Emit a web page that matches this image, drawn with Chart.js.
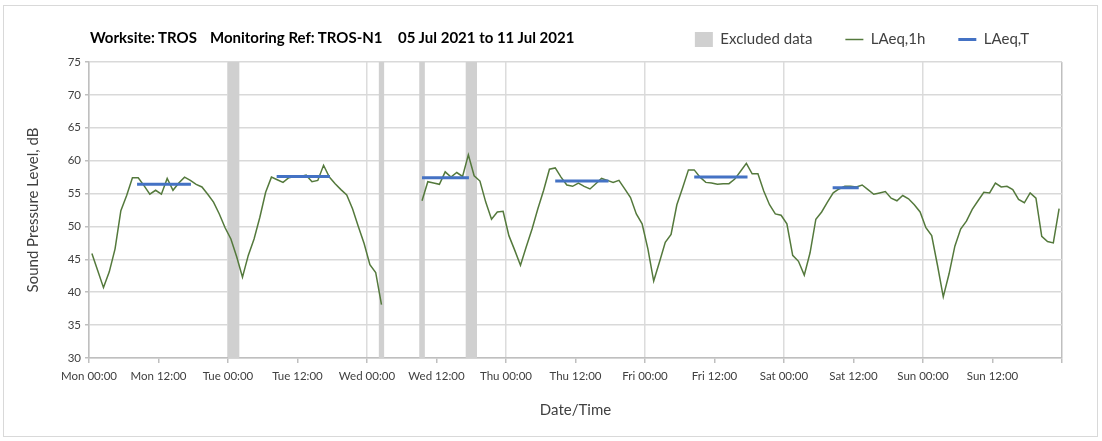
<!DOCTYPE html>
<html>
<head>
<meta charset="utf-8">
<title>TROS-N1 noise monitoring</title>
<script src="https://cdn.jsdelivr.net/npm/chart.js@4.4.0/dist/chart.umd.min.js"></script>
<style>
  body { margin: 0; background: #fff; font-family: Lato, 'Open Sans', sans-serif; }
  #wrap { position: relative; width: 1102px; height: 441px; }
  #frame { position: absolute; left: 3px; top: 5px; width: 1093px; height: 430px; border: 1px solid #d9d9d9; }
  #heading { position: absolute; top: 28px; left: 0; font-weight: bold; font-size: 15px; color: #000; }
  #heading span { position: absolute; white-space: nowrap; }
  canvas { position: absolute; left: 0; top: 0; }
</style>
</head>
<body>
<div id="wrap">
  <div id="frame"></div>
  <canvas id="noiseChart" width="1102" height="441"></canvas>
  <div id="heading">
    <span style="left:90px">Worksite: TROS</span>
    <span style="left:210px">Monitoring Ref: TROS-N1</span>
    <span style="left:398px">05 Jul 2021 to 11 Jul 2021</span>
  </div>
</div>
<script>
// x axis is hours from Mon 00:00
const days = ['Mon', 'Tue', 'Wed', 'Thu', 'Fri', 'Sat', 'Sun'];
const clockLabels = ['00:00', '12:00'];
const yTicks = [30, 35, 40, 45, 50, 55, 60, 65, 70, 75];

// LAeq,1h, one value per hour starting Mon 00:00 (null = no data)
const laeq1h = [
  45.9, 43.3, 40.7, 43.1, 46.6, 52.4, 54.7, 57.4, 57.4, 56.2, 54.9, 55.5, 54.9, 57.3, 55.5, 56.6, 57.5, 57.0, 56.4, 56.0, 54.9, 53.7, 51.9, 49.8,
  48.1, 45.4, 42.3, 45.6, 48.1, 51.4, 55.2, 57.5, 57.1, 56.7, 57.4, 57.6, 57.6, 57.8, 56.8, 57.0, 59.3, 57.5, 56.5, 55.6, 54.8, 52.7, 50.0, 47.4,
  44.2, 43.0, 38.1, null, null, null, null, null, null, 53.9, 56.8, 56.6, 56.4, 58.3, 57.5, 58.2, 57.6, 60.9, 57.7, 56.9, 53.7, 51.1, 52.2, 52.3,
  48.6, 46.4, 44.1, 46.9, 49.6, 52.7, 55.5, 58.7, 58.9, 57.5, 56.3, 56.1, 56.6, 56.1, 55.7, 56.5, 57.3, 57.0, 56.7, 57.0, 55.7, 54.4, 51.9, 50.4,
  46.6, 41.7, 44.6, 47.6, 48.8, 53.3, 55.9, 58.6, 58.6, 57.5, 56.7, 56.6, 56.4, 56.5, 56.5, 57.2, 58.4, 59.6, 58.0, 58.0, 55.4, 53.3, 51.9, 51.7,
  50.4, 45.6, 44.7, 42.6, 46.0, 51.1, 52.2, 53.7, 55.1, 55.7, 56.1, 56.1, 56.0, 56.3, 55.6, 54.9, 55.1, 55.3, 54.3, 53.9, 54.7, 54.2, 53.3, 52.2,
  49.8, 48.6, 44.1, 39.3, 42.8, 47.0, 49.6, 50.8, 52.6, 53.9, 55.2, 55.1, 56.6, 56.0, 56.1, 55.6, 54.1, 53.6, 55.1, 54.3, 48.5, 47.7, 47.5, 52.7
];

// LAeq,T over each daytime period
const periodStart = [8.3, 32.4, 57.5, 80.5, 104.5, 128.4];
const periodEnd = [17.6, 41.6, 65.6, 89.7, 113.7, 132.9];
const periodLevel = [56.4, 57.6, 57.4, 56.9, 57.5, 55.9];

// excluded data windows (hours)
const excludedStart = [24, 50, 57, 65];
const excludedEnd = [26, 51, 58, 67];

const hourlyPoints = laeq1h.map((v, i) => ({ x: i + 0.5, y: v }));

const periodPoints = [];
periodStart.forEach((s, i) => {
  periodPoints.push({ x: s, y: periodLevel[i] }, { x: periodEnd[i], y: periodLevel[i] }, { x: periodEnd[i], y: null });
});

const excludedPoints = [];
excludedStart.forEach((s, i) => {
  excludedPoints.push({ x: s, y: yTicks[yTicks.length - 1] }, { x: excludedEnd[i], y: yTicks[yTicks.length - 1] }, { x: excludedEnd[i], y: null });
});

// push the plot down a little below the legend
const legendSpacer = {
  id: 'legendSpacer',
  beforeInit(chart) {
    const origFit = chart.legend.fit;
    chart.legend.fit = function () {
      origFit.bind(chart.legend)();
      this.height += 5;
    };
  }
};

const font = 'Lato, "Open Sans", sans-serif';
const textColor = '#404040';

new Chart(document.getElementById('noiseChart'), {
  type: 'line',
  data: {
    datasets: [
      {
        label: 'Excluded data',
        data: excludedPoints,
        fill: 'start',
        backgroundColor: '#d0d0d0',
        borderColor: 'transparent',
        borderWidth: 0,
        pointRadius: 0,
        pointStyle: 'rect',
        order: 3
      },
      {
        label: 'LAeq,1h',
        data: hourlyPoints,
        borderColor: '#54793c',
        backgroundColor: '#54793c',
        borderWidth: 1.5,
        pointRadius: 0,
        pointStyle: 'line',
        fill: false,
        order: 2
      },
      {
        label: 'LAeq,T',
        data: periodPoints,
        borderColor: '#4472c4',
        backgroundColor: '#4472c4',
        borderWidth: 3,
        pointRadius: 0,
        pointStyle: 'line',
        fill: false,
        order: 1
      }
    ]
  },
  options: {
    responsive: false,
    animation: false,
    devicePixelRatio: 1,
    layout: { padding: { top: -1, right: 40, bottom: 0, left: 0 } },
    plugins: {
      tooltip: { enabled: false },
      legend: {
        position: 'top',
        align: 'end',
        labels: {
          usePointStyle: true,
          pointStyleWidth: 18,
          padding: 33,
          color: textColor,
          font: { family: font, size: 15 },
          sort: (a, b) => a.datasetIndex - b.datasetIndex
        }
      }
    },
    scales: {
      x: {
        type: 'linear',
        min: 0,
        max: days.length * 24,
        afterFit: s => { s.height = 83; },
        ticks: {
          stepSize: 12,
          autoSkip: false,
          maxRotation: 0,
          padding: 6,
          color: textColor,
          font: { family: font, size: 11.5 },
          callback: v => v >= days.length * 24 ? '' : days[Math.floor(v / 24)] + ' ' + clockLabels[(v % 24) / 12]
        },
        grid: {
          color: c => {
            if (!c.tick) return 'transparent';
            if (c.tick.value === days.length * 24) return '#bfbfbf';
            return c.tick.value % 24 === 0 ? '#dcdcdc' : 'transparent';
          },
          lineWidth: 1.5,
          tickColor: '#bfbfbf',
          tickLength: 5
        },
        border: { color: '#bfbfbf', width: 1.5 },
        title: {
          display: true,
          text: 'Date/Time',
          color: textColor,
          font: { family: font, size: 15 },
          padding: { top: 0, bottom: 22 }
        }
      },
      y: {
        min: yTicks[0],
        max: yTicks[yTicks.length - 1],
        afterFit: s => { s.width = 89; },
        afterBuildTicks: s => { s.ticks = yTicks.map(v => ({ value: v })); },
        ticks: {
          padding: 4,
          color: textColor,
          font: { family: font, size: 11.5 }
        },
        grid: { color: '#d9d9d9', lineWidth: 1.5, tickColor: '#bfbfbf', tickLength: 4 },
        border: { color: '#bfbfbf', width: 1.5 },
        title: {
          display: true,
          text: 'Sound Pressure Level, dB',
          color: textColor,
          font: { family: font, size: 15 },
          padding: { top: 24, bottom: 0 }
        }
      }
    }
  },
  plugins: [legendSpacer]
});
</script>
</body>
</html>
